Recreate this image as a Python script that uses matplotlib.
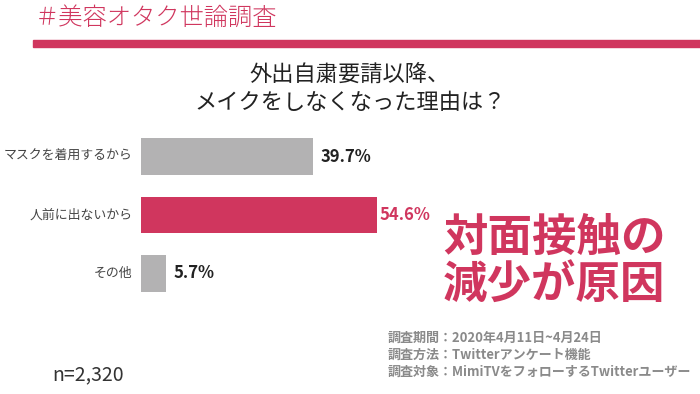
import matplotlib
matplotlib.use('Agg')
import matplotlib.pyplot as plt

plt.rcParams['font.family'] = ['Noto Sans CJK JP', 'DejaVu Sans']

# データ
categories = ['マスクを着用するから', '人前に出ないから', 'その他']
values = [39.7, 54.6, 5.7]
highlight = 1

PINK = '#D0365E'
GRAY = '#B3B2B3'

fig = plt.figure(figsize=(7, 3.94), dpi=100)
fig.patch.set_facecolor('white')

# ヘッダー
fig.text(35 / 700, 1 - 18 / 394, '＃美容オタク世論調査', color=PINK, fontsize=17.5,
         fontweight='light', ha='left', va='center')
fig.patches.append(plt.Rectangle((33 / 700, 1 - 47 / 394), 1, 7 / 394,
                                 transform=fig.transFigure, color=PINK))

# 質問文
fig.text(0.5, 1 - 89 / 394, '外出自粛要請以降、\nメイクをしなくなった理由は？',
         fontsize=16, ha='center', va='center', linespacing=1.25, color='#222222')

# 棒グラフ
ax = fig.add_axes([141 / 700, 1 - 302.75 / 394, 433 / 700, 175.5 / 394])
colors = [PINK if i == highlight else GRAY for i in range(len(values))]
ax.barh(range(len(values)), values, height=0.63, color=colors)
ax.set_xlim(0, 100)
ax.set_ylim(2.5, -0.5)
ax.axis('off')

for i, (c, v) in enumerate(zip(categories, values)):
    ax.text(-1.9, i, c, ha='right', va='center', fontsize=9.3, color='#444444')
    ax.text(v + 1.8 if i != highlight else v + 0.4, i, '%.1f%%' % v,
            ha='left', va='center', fontsize=12, fontweight='bold',
            color=PINK if i == highlight else '#222222')

# 結論
fig.text(443 / 700, 1 - 262 / 394, '対面接触の\n減少が原因', color=PINK, fontsize=32,
         fontweight='bold', ha='left', va='center', linespacing=1.05)

# 注記
notes = ['調査期間：2020年4月11日~4月24日',
         '調査方法：Twitterアンケート機能',
         '調査対象：MimiTVをフォローするTwitterユーザー']
for k, s in enumerate(notes):
    fig.text(388 / 700, 1 - (338 + 17 * k) / 394, s, fontsize=9.4, color='#8A8A8A',
             fontweight='bold', ha='left', va='center')

fig.text(52 / 700, 1 - 375 / 394, 'n=2,320', fontsize=14, color='#333333',
         ha='left', va='center')

fig.savefig('out.png', dpi=100, facecolor='white')
